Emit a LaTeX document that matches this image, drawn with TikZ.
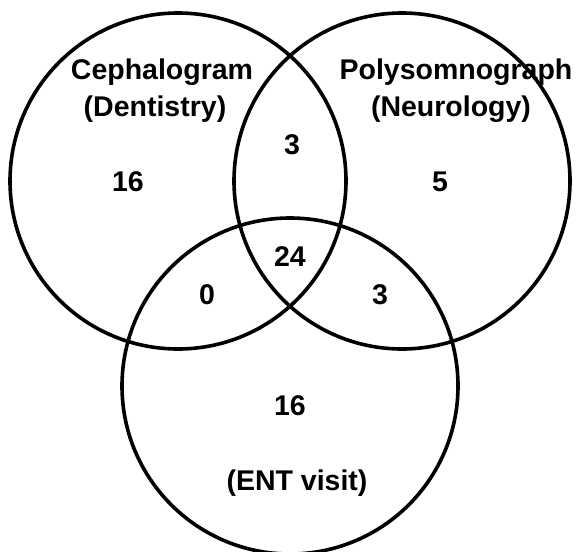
\documentclass[tikz,border=0pt]{standalone}
\usepackage{fontspec}
\setmainfont{Liberation Sans}
\usetikzlibrary{positioning}
\tikzset{
  ring/.style = {draw, circle, line width=3.6pt, minimum size=336pt, inner sep=0pt},
  lbl/.style  = {font=\fontsize{28.5}{33}\selectfont\bfseries, align=center, inner sep=0pt},
  num/.style  = {font=\fontsize{28.5}{33}\selectfont\bfseries, inner sep=0pt}
}
\begin{document}
\begin{tikzpicture}[x=1pt, y=-1pt]
  \useasboundingbox (0,0) rectangle (579,552);
  % the three sets
  \node[ring] (ceph) at (178,181) {};
  \node[ring] (poly) at (402,181) {};
  \node[ring] (ent)  at (290,386) {};
  % set names
  \node[lbl] (cephname) at (162,72)  {Cephalogram};
  \node[lbl, below=10pt of cephname.south, xshift=-7pt] (dent) {(Dentistry)};
  \node[lbl] (polyname) at (456,72)  {Polysomnograph};
  \node[lbl, below=10pt of polyname.south, xshift=-5pt] (neuro) {(Neurology)};
  \node[lbl] (entname)  at (297,483) {(ENT visit)};
  % counts
  \node[num] (onlyc)  at (128,182) {16};
  \node[num] (onlyp)  at (440,182) {5};
  \node[num] (cp)     at (292,145) {3};
  \node[num] (cpe)    at (290,257) {24};
  \node[num] (ce)     at (207,295) {0};
  \node[num] (pe)     at (380,295) {3};
  \node[num] (onlye)  at (290,406) {16};
\end{tikzpicture}
\end{document}
